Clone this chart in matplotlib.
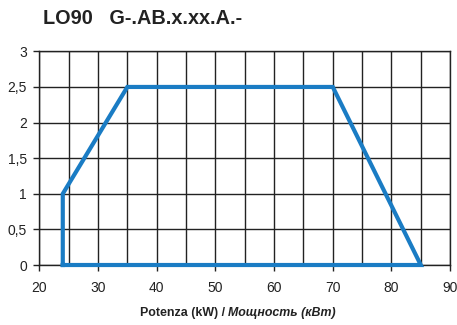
import matplotlib
matplotlib.use("Agg")
import matplotlib.pyplot as plt
import numpy as np

# Operating range outline (power kW, pressure)
power_kw = [24, 24, 35, 70, 85, 24]
pressure = [0, 1, 2.5, 2.5, 0, 0]

x_ticks = [20, 30, 40, 50, 60, 70, 80, 90]
y_ticks = [0, 0.5, 1, 1.5, 2, 2.5, 3]
y_tick_labels = ["0", "0,5", "1", "1,5", "2", "2,5", "3"]

plt.rcParams["font.family"] = ["Liberation Sans", "DejaVu Sans"]

fig = plt.figure(figsize=(4.57, 3.25), dpi=100)
ax = fig.add_axes([0.086, 0.1846, 0.899, 0.6574])

ax.plot(power_kw, pressure, color="#1a7cc4", lw=3.0, solid_joinstyle="miter",
        zorder=3, clip_on=False)

ax.set_xlim(20, 90)
ax.set_ylim(0, 3)
ax.set_xticks(x_ticks)
ax.set_xticks(np.arange(20, 91, 5), minor=True)
ax.set_yticks(y_ticks)
ax.set_yticklabels(y_tick_labels)
ax.tick_params(which="minor", length=0)
ax.tick_params(which="major", length=4, width=1, color="#222222",
               labelsize=10, labelcolor="#222222")
ax.tick_params(axis="x", which="major", pad=7.5)
ax.tick_params(axis="y", which="major", pad=5)
ax.grid(True, which="both", color="#222222", lw=1.0)
ax.set_axisbelow(True)
for s in ax.spines.values():
    s.set_color("#222222")
    s.set_linewidth(1.0)

fig.text(0.0934, 0.925, "LO90   G-.AB.x.xx.A.-", fontsize=14.3,
         fontweight="bold", color="#222222", va="baseline", ha="left")

# Axis title: Italian part bold, Russian part bold italic
t1 = fig.text(0.0, 0.038, "Potenza (kW) / ", fontsize=8.9, fontweight="bold",
              color="#222222", va="center")
t2 = fig.text(0.0, 0.038, "Мощность (кВт)", fontsize=8.9, fontweight="bold",
              fontstyle="italic", color="#222222", va="center")
fig.canvas.draw()
r = fig.canvas.get_renderer()
w1 = t1.get_window_extent(r).width / fig.bbox.width
w2 = t2.get_window_extent(r).width / fig.bbox.width
x0 = 0.52 - (w1 + w2) / 2
t1.set_x(x0)
t2.set_x(x0 + w1)

fig.savefig("out.png", dpi=100)
